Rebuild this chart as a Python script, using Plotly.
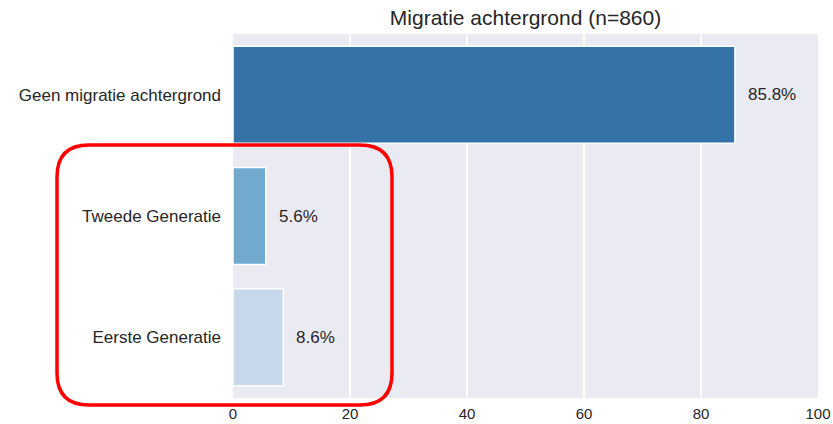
import plotly.graph_objects as go

categories = ["Geen migratie achtergrond", "Tweede Generatie", "Eerste Generatie"]
values = [85.8, 5.6, 8.6]
labels = ["85.8%", "5.6%", "8.6%"]
colors = ["#3572a8", "#72a9cf", "#c6d9ea"]
x_ticks = [0, 20, 40, 60, 80, 100]

W, H = 833, 424
L, R, T, B = 233, 15, 34, 26
pw, ph = W - L - R, H - T - B

fig = go.Figure(go.Bar(
    y=categories, x=values, orientation="h",
    marker=dict(color=colors, line=dict(color="white", width=1.5)),
    width=0.8,
))

for c, v, lab in zip(categories, values, labels):
    fig.add_annotation(x=v, y=c, text=lab, showarrow=False, xanchor="left",
                       xshift=11, font=dict(size=17, color="#262626"))

def px(x):
    return (x - L) / pw

def py(y):
    return (H - B - y) / ph

x0, x1, y0, y1, r = 57, 392, 145, 405, 32
path = (f"M {px(x0+r)} {py(y0)} L {px(x1-r)} {py(y0)} Q {px(x1)} {py(y0)} {px(x1)} {py(y0+r)} "
        f"L {px(x1)} {py(y1-r)} Q {px(x1)} {py(y1)} {px(x1-r)} {py(y1)} "
        f"L {px(x0+r)} {py(y1)} Q {px(x0)} {py(y1)} {px(x0)} {py(y1-r)} "
        f"L {px(x0)} {py(y0+r)} Q {px(x0)} {py(y0)} {px(x0+r)} {py(y0)} Z")
fig.add_shape(type="path", path=path, xref="paper", yref="paper",
              line=dict(color="#ff0000", width=3.5), layer="above")

fig.update_layout(
    width=W, height=H,
    margin=dict(l=L, r=R, t=T, b=B, pad=0, autoexpand=False),
    paper_bgcolor="white", plot_bgcolor="#eaeaf2",
    font=dict(family="Liberation Sans, Arial, sans-serif", size=17, color="#262626"),
    title=dict(text="Migratie achtergrond (n=860)", x=(L + pw / 2) / W, xanchor="center",
               y=1 - 18 / H, yanchor="middle", font=dict(size=21, color="#262626")),
    showlegend=False,
    bargap=0.2,
)
fig.update_xaxes(range=[0, 100], tickvals=x_ticks, showgrid=True, gridcolor="white",
                 gridwidth=1.5, zeroline=False, ticks="", ticklabelstandoff=5,
                 tickfont=dict(size=15), automargin=False)
fig.update_yaxes(categoryorder="array", categoryarray=categories, autorange="reversed",
                 showgrid=False, zeroline=False, ticks="", ticklabelstandoff=11,
                 tickfont=dict(size=17), automargin=False)

fig.write_html("out.html", config={"displayModeBar": False},
               post_script="document.body.style.margin='0';document.body.style.overflow='hidden';")
